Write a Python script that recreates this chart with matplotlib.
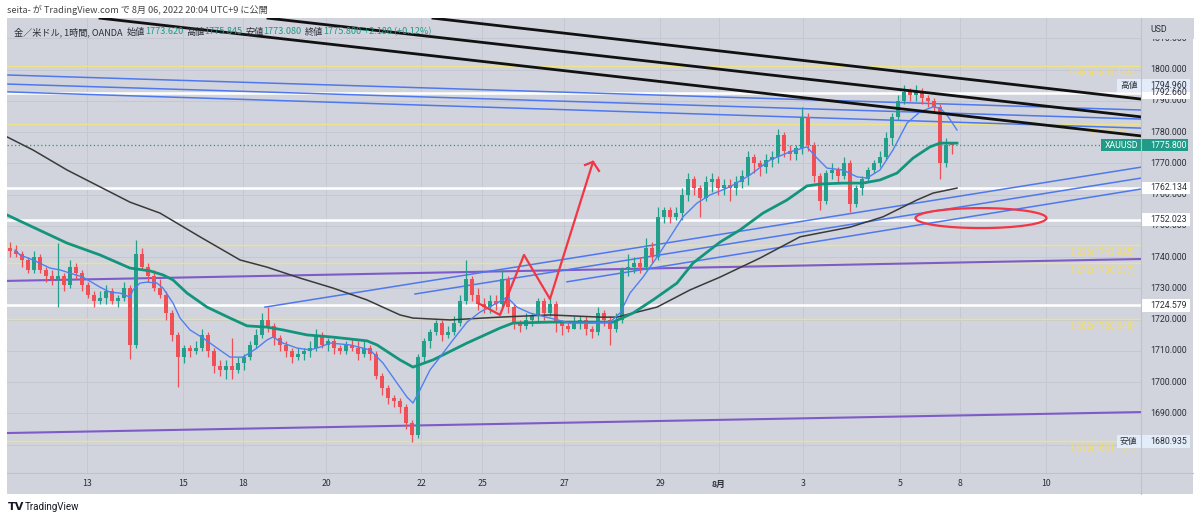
import matplotlib
matplotlib.use("Agg")
import matplotlib.pyplot as plt
from matplotlib.patches import Rectangle, Ellipse
import numpy as np

# ---------------- data ----------------
# 3-hour candles (XAUUSD)
opens = [1743, 1742, 1741, 1739, 1736, 1740, 1736, 1734, 1733, 1734,
         1731, 1737, 1735, 1731, 1728, 1726, 1727, 1729, 1726, 1727,
         1730, 1712, 1741, 1737, 1734, 1730, 1728, 1722, 1715, 1708,
         1711, 1710, 1711, 1715, 1710, 1705, 1704, 1705, 1704, 1706,
         1708, 1712, 1715, 1720, 1718, 1714, 1712, 1710, 1708, 1709,
         1710, 1711, 1715, 1712, 1713, 1711, 1710, 1712, 1711, 1709,
         1711, 1709, 1702, 1698, 1695, 1694, 1692, 1687, 1683, 1708,
         1713, 1716, 1719, 1715, 1716, 1719, 1726, 1733, 1728, 1725,
         1724, 1726, 1725, 1733, 1724, 1719, 1718, 1720, 1721, 1726,
         1722, 1725, 1719, 1718, 1717, 1719, 1720, 1717, 1716, 1722,
         1720, 1717, 1720, 1736, 1737, 1738, 1737, 1743, 1740, 1753,
         1755, 1753, 1754, 1760, 1765, 1762, 1759, 1764, 1765, 1762,
         1763, 1762, 1764, 1766, 1772, 1770, 1769, 1771, 1772, 1779,
         1774, 1773, 1775, 1785, 1776, 1766, 1758, 1767, 1768, 1766,
         1770, 1757, 1762, 1765, 1768, 1770, 1772, 1778, 1785, 1790,
         1793, 1792, 1793, 1791, 1790, 1788, 1770, 1776]
highs = [1745, 1744, 1742, 1740, 1742, 1741, 1737, 1736, 1744.5, 1735,
         1739, 1738, 1736, 1732, 1729, 1729, 1731, 1730, 1728, 1732,
         1731, 1745.5, 1743, 1738, 1736, 1733, 1729, 1723, 1716, 1712,
         1712, 1713, 1717, 1716, 1711, 1707, 1707, 1714, 1708, 1709,
         1713, 1717, 1722, 1724, 1719, 1715, 1713, 1711, 1711, 1711,
         1713, 1717, 1716, 1714, 1714, 1712, 1713, 1714, 1713, 1713,
         1712, 1710, 1703, 1699, 1696, 1695, 1693, 1688, 1709, 1714,
         1717, 1720, 1720, 1718, 1721, 1728, 1739, 1734, 1730, 1727,
         1728, 1728, 1736, 1734, 1725, 1720, 1722, 1722, 1727, 1727,
         1727, 1726, 1720, 1719, 1721, 1721, 1721, 1718, 1724, 1723,
         1721, 1722, 1737, 1741, 1740, 1740, 1746, 1745, 1756, 1756,
         1756, 1756, 1762, 1767, 1766, 1763, 1766, 1767, 1766, 1765,
         1765, 1766, 1768, 1774, 1773, 1771, 1773, 1774, 1781, 1780,
         1776, 1776, 1788, 1786, 1777, 1767, 1768, 1770, 1769, 1772,
         1771, 1763, 1766, 1769, 1771, 1774, 1780, 1786, 1792, 1795,
         1794, 1794.96, 1794, 1792, 1791, 1789, 1778, 1777]
lows = [1740, 1740, 1737, 1735, 1735, 1735, 1732, 1731, 1724, 1729,
        1730, 1733, 1729, 1727, 1724, 1725, 1725, 1725, 1724, 1726,
        1707.5, 1711, 1736, 1732, 1729, 1727, 1720, 1713, 1698.5, 1706,
        1708, 1709, 1710, 1708, 1703, 1702, 1701, 1701, 1703, 1704,
        1707, 1711, 1714, 1716, 1712, 1710, 1708, 1706, 1707, 1707,
        1708, 1710, 1711, 1710, 1709, 1709, 1709, 1710, 1707, 1708,
        1707, 1701, 1696, 1693, 1692, 1690, 1685, 1680.94, 1682, 1706,
        1711, 1715, 1713, 1714, 1715, 1718, 1725, 1726, 1723, 1722,
        1722, 1723, 1724, 1722, 1717, 1716, 1717, 1718, 1719, 1720,
        1721, 1716, 1715, 1716, 1717, 1717, 1715, 1714, 1715, 1718,
        1712, 1716, 1719, 1734, 1735, 1735, 1736, 1738, 1739, 1751,
        1751, 1752, 1752, 1758, 1760, 1753, 1758, 1761, 1760, 1760,
        1758, 1760, 1762, 1763, 1767, 1766, 1767, 1769, 1770, 1772,
        1771, 1771, 1773, 1774, 1764, 1755, 1757, 1765, 1764, 1765,
        1754.5, 1756, 1760, 1764, 1767, 1769, 1771, 1776, 1784, 1789,
        1790, 1790, 1789, 1788, 1786, 1765, 1769, 1773]
closes = [1742, 1741, 1739, 1736, 1740, 1736, 1734, 1733, 1734, 1731,
          1737, 1735, 1731, 1728, 1726, 1727, 1729, 1726, 1727, 1730,
          1712, 1741, 1737, 1734, 1730, 1728, 1722, 1715, 1708, 1711,
          1710, 1711, 1715, 1710, 1705, 1704, 1705, 1704, 1706, 1708,
          1712, 1715, 1720, 1718, 1714, 1712, 1710, 1708, 1709, 1710,
          1711, 1715, 1712, 1713, 1711, 1710, 1712, 1711, 1709, 1711,
          1709, 1702, 1698, 1695, 1694, 1692, 1687, 1683, 1708, 1713,
          1716, 1719, 1715, 1716, 1719, 1726, 1733, 1728, 1725, 1724,
          1726, 1725, 1733, 1724, 1719, 1718, 1720, 1721, 1726, 1722,
          1725, 1719, 1718, 1717, 1719, 1720, 1717, 1716, 1722, 1720,
          1717, 1720, 1736, 1737, 1738, 1737, 1743, 1740, 1753, 1755,
          1753, 1754, 1760, 1765, 1762, 1759, 1764, 1765, 1762, 1763,
          1762, 1764, 1766, 1772, 1770, 1769, 1771, 1772, 1779, 1774,
          1773, 1775, 1785, 1776, 1766, 1758, 1767, 1768, 1766, 1770,
          1757, 1762, 1765, 1768, 1770, 1772, 1778, 1785, 1790, 1793,
          1792, 1793, 1791, 1790, 1788, 1770, 1776, 1775.8]
bar_hours = 3

# moving averages (hour index, price)
blue_ma_t = [3.5, 6, 12.5, 21, 26, 31, 37.5, 46, 51, 56, 61, 62.5, 66, 69.5, 74.5, 77.5,
             82.5, 86, 91, 97.5, 104.5, 111, 117.5, 124.5, 129.5, 132.5, 137.5, 144.5,
             151, 156, 161, 171, 181, 187.5, 194.5, 199.5, 202.5, 206, 211, 216, 222.5,
             229.5, 236, 244.5, 249.5, 254.5, 261, 271, 281, 291, 301, 306, 311, 317.5,
             324.5, 331, 337.5, 344.5, 351, 361, 371, 381, 391, 399.5, 404.5, 409.5,
             417.5, 424.5, 429.5, 436, 442.5, 449.5, 456, 462.5, 466, 469.5, 474.5]
blue_ma_v = [1742.3, 1740.7, 1739.1, 1736.5, 1735.9, 1734.9, 1733.6, 1730.4, 1728.8, 1728.5,
             1727.2, 1729.5, 1731.7, 1732.0, 1731.7, 1730.1, 1725.3, 1720.5, 1716.7, 1714.1,
             1710.9, 1708.0, 1708.0, 1710.9, 1713.5, 1714.4, 1712.5, 1710.9, 1710.3, 1711.2,
             1712.5, 1711.9, 1710.3, 1706.1, 1699.7, 1695.2, 1693.3, 1697.5, 1703.9, 1708.0,
             1713.5, 1719.2, 1722.4, 1725.3, 1727.2, 1724.0, 1722.1, 1720.5, 1718.9, 1718.9,
             1719.2, 1722.1, 1728.5, 1733.6, 1740.0, 1746.4, 1752.9, 1757.3, 1759.9, 1762.5,
             1766.3, 1771.1, 1773.7, 1775.3, 1771.7, 1768.5, 1767.9, 1765.7, 1765.3, 1767.9,
             1774.3, 1782.9, 1786.5, 1788.1, 1787.7, 1785.5, 1780.7]
green_ma_t = [-0.5, 12.5, 29.5, 46, 61, 71, 77.5, 82.5, 89.5, 99.5, 111, 119.5, 129.5, 137.5,
              149.5, 162.5, 179.5, 184.5, 196, 202.5, 212.5, 229.5, 246, 252.5, 271, 287.5,
              302.5, 312.5, 322.5, 334.5, 342.5, 356, 366, 377.5, 389.5, 399.5, 406, 417.5,
              427.5, 436, 444.5, 452.5, 461, 466, 474.5]
green_ma_v = [1753.5, 1749.6, 1744.5, 1740.7, 1736.5, 1735.6, 1734.3, 1732.7, 1728.5, 1724.0,
              1720.5, 1718.0, 1717.6, 1716.7, 1715.1, 1714.4, 1713.2, 1711.9, 1707.1, 1704.8,
              1707.1, 1712.5, 1717.3, 1718.9, 1719.2, 1719.2, 1719.2, 1722.1, 1726.3, 1731.7,
              1738.1, 1744.8, 1748.7, 1754.1, 1758.3, 1762.8, 1763.4, 1763.7, 1763.7, 1764.7,
              1766.9, 1771.7, 1775.3, 1776.5, 1776.5]
black_ma_t = [-0.5, 12.5, 29.5, 46, 61, 76, 96, 116, 129.5, 146, 162.5, 179.5, 196, 202.5,
              221, 246, 271, 296, 304.5, 324.5, 341, 356, 376, 396, 421, 437.5, 454.5,
              462.5, 474.5]
black_ma_v = [1778.5, 1774.3, 1767.9, 1762.5, 1757.6, 1754.1, 1746.5, 1739.1, 1736.8, 1733.3,
              1730.1, 1726.3, 1721.5, 1720.5, 1719.9, 1720.8, 1721.5, 1720.8, 1720.8, 1724.0,
              1729.5, 1733.6, 1739.7, 1746.5, 1749.6, 1752.9, 1758.3, 1760.5, 1762.1]

date_labels = ['13', '15', '18', '20', '22', '25', '27', '29', '8月', '3', '5', '8', '10']
date_hours = [39.5, 87.5, 117.5, 159, 206.5, 237, 278, 326, 355.5, 397.5, 446, 476, 519]
price_ticks = [1690, 1700, 1710, 1720, 1730, 1740, 1750, 1760, 1770, 1780, 1790, 1800, 1810]

white_levels = [1792.660, 1762.134, 1752.023, 1724.579]
fib_levels = ['0.886', '1', '1.236', '1.272', '1.382', '1.618']
fib_prices = [1801.165, 1782.521, 1743.925, 1738.037, 1720.048, 1681.151]
last_price = 1775.800
high_price = 1794.960
low_price = 1680.935
symbol = 'XAUUSD'

black_trend_t = [[212.5, 566.5], [130, 566.5], [46, 566.5]]
black_trend_v = [[1816.5, 1790.6], [1816.5, 1784.9], [1816.5, 1778.8]]
blue_trend_t = [[0, 566.5], [0, 566.5], [0, 566.5],
                [128.5, 566.5], [203.5, 566.5], [279.5, 566.5]]
blue_trend_v = [[1798.3, 1787.1], [1795.4, 1784.2], [1792.9, 1781.3],
                [1724.0, 1768.8], [1728.2, 1765.3], [1732.1, 1761.8]]
purple_trend_t = [[0, 566.5], [0, 566.5]]
purple_trend_v = [[1732.4, 1739.4], [1683.7, 1690.4]]
red_path_t = [235, 246, 258, 271, 292.5]
red_path_v = [1725.3, 1721.5, 1740.7, 1726.6, 1770.5]
red_head_t = [288.5, 292.5, 295.5]
red_head_v = [1769.5, 1770.5, 1767.6]
ellipse_center = (486.5, 1752.5)
ellipse_size = (65.5, 6.4)

title_text = 'seita- が TradingView.com で 8月 06, 2022 20:04 UTC+9 に公開'
header_name = '金／米ドル, 1時間, OANDA'
header_keys = ['始値', '高値', '安値', '終値']
header_vals = ['1773.620', '1775.845', '1773.080', '1775.800']
header_change = '+2.180 (+0.12%)'

# ---------------- style ----------------
BG = '#d1d4dc'
GRID = '#c5c8d0'
UP = '#22a08c'
DN = '#ef4f55'
TEAL = '#1f9b87'
TXT = '#2a2e39'
FIB = '#efe38a'
FIBTXT = '#f6dc6c'
JP = ['Noto Sans CJK JP', 'DejaVu Sans']
NUM = ['Roboto', 'Noto Sans CJK JP', 'DejaVu Sans']

W, H = 1200, 520
PL, PR, PT, PB = 7, 1141, 18, 473
AR, AB = 1193, 494

fig = plt.figure(figsize=(W / 100, H / 100), dpi=100)
fig.patch.set_facecolor('white')
fig.patches.append(Rectangle((PL / W, 1 - AB / H), (AR - PL) / W, (AB - PT) / H,
                             transform=fig.transFigure, fc=BG, ec='none', zorder=-5))

ax = fig.add_axes([PL / W, 1 - PB / H, (PR - PL) / W, (PB - PT) / H])
ax.set_facecolor('none')
ax.set_xlim(-0.5, 566.5)
ax.set_ylim(1670.9, 1816.55)
ax.axis('off')

def axfrac(px):
    return (px - PL) / (PR - PL)

# grid
for p in range(1680, 1820, 10):
    ax.axhline(p, color=GRID, lw=0.7, zorder=1)
for h in date_hours:
    ax.axvline(h, color=GRID, lw=0.7, zorder=1)

# fib lines + labels
ytr = ax.get_yaxis_transform()
for lv, p in zip(fib_levels, fib_prices):
    ax.axhline(p, color=FIB, lw=1.0, zorder=2)
    ax.annotate(f'{lv}({p:.3f})', xy=(axfrac(1135), p), xycoords=ytr,
                xytext=(0, -1.5), textcoords='offset points', ha='right', va='top',
                fontsize=6.4, color=FIBTXT, family=NUM, zorder=3)

# white levels
for p in white_levels:
    ax.axhline(p, color='white', lw=1.8, zorder=2)

# current price dotted
ax.axhline(last_price, color=TEAL, lw=0.9, ls=(0, (1, 2)), zorder=2)

# trend lines
for tt, vv in zip(purple_trend_t, purple_trend_v):
    ax.plot(tt, vv, color='#7e5bc8', lw=1.5, zorder=3)
for tt, vv in zip(blue_trend_t, blue_trend_v):
    ax.plot(tt, vv, color='#4f78ee', lw=1.1, zorder=3)

# candles
n = len(closes)
t = 1 + bar_hours * np.arange(n)
o = np.array(opens, float); c = np.array(closes, float)
hi = np.array(highs, float); lo = np.array(lows, float)
cols = np.where(c >= o, UP, DN)
ax.vlines(t, lo, hi, colors=cols, lw=0.9, zorder=4)
ax.bar(t, np.maximum(np.abs(c - o), 0.4), bottom=np.minimum(o, c), width=1.7,
       color=cols, lw=0, zorder=5)

# moving averages
ax.plot(black_ma_t, black_ma_v, color='#3a3a3a', lw=1.1, zorder=6)
ax.plot(green_ma_t, green_ma_v, color='#13957d', lw=2.0, zorder=6)
ax.plot(blue_ma_t, blue_ma_v, color='#4f80f2', lw=1.0, zorder=6)

for tt, vv in zip(black_trend_t, black_trend_v):
    ax.plot(tt, vv, color='#111111', lw=2.0, zorder=7)

# red drawings
ax.plot(red_path_t, red_path_v, color='#f23645', lw=1.6, zorder=8)
ax.plot(red_head_t, red_head_v, color='#f23645', lw=1.6, zorder=8)
ax.add_patch(Ellipse(ellipse_center, ellipse_size[0], ellipse_size[1], fill=False,
                     ec='#f23645', lw=1.6, zorder=8))

# ---- price scale ----
for p in price_ticks:
    ax.text(axfrac(1150), p, f'{p:.3f}', transform=ytr, ha='left', va='center',
            fontsize=6.3, color=TXT, family=NUM, clip_on=False, zorder=9)

def pbox(x0px, x1px, p, fc, hpx=12.5):
    hh = hpx / 3.124
    ax.add_patch(Rectangle((axfrac(x0px), p - hh / 2), axfrac(x1px) - axfrac(x0px), hh,
                           transform=ytr, fc=fc, ec='none', clip_on=False, zorder=10))

for p in white_levels:
    pbox(1141, 1190, p, 'white')
    ax.text(axfrac(1150), p, f'{p:.3f}', transform=ytr, ha='left', va='center',
            fontsize=6.3, color=TXT, family=NUM, clip_on=False, zorder=11)

for lab, p in [('高値', high_price), ('安値', low_price)]:
    pbox(1117, 1190, p, '#e3ecf9')
    ax.text(axfrac(1120), p, lab, transform=ytr, ha='left', va='center',
            fontsize=6.3, color=TXT, family=JP, clip_on=False, zorder=11)
    ax.text(axfrac(1150), p, f'{p:.3f}', transform=ytr, ha='left', va='center',
            fontsize=6.3, color=TXT, family=NUM, clip_on=False, zorder=11)

pbox(1101, 1188, last_price, TEAL, hpx=12)
ax.text(axfrac(1105), last_price, symbol, transform=ytr, ha='left', va='center',
        fontsize=6.3, color='white', family=NUM, clip_on=False, zorder=11)
ax.text(axfrac(1150), last_price, f'{last_price:.3f}', transform=ytr, ha='left',
        va='center', fontsize=6.3, color='white', family=NUM, clip_on=False, zorder=11)

# cover under USD label (hides most of the top tick label, as in the reference)
fig.patches.append(Rectangle((PR / W + 0.0005, 1 - 39 / H), (AR - PR) / W, 21 / H,
                             transform=fig.transFigure, fc=BG, ec='none', zorder=20))
fig.text(1150 / W, 1 - 29 / H, 'USD', fontsize=6.3, color=TXT, family=NUM,
         ha='left', va='center', zorder=21)

# separators
fig.add_artist(plt.Line2D([PR / W, PR / W], [1 - PT / H, 1 - AB / H],
                          transform=fig.transFigure, color='#bfc2ca', lw=0.8))
fig.add_artist(plt.Line2D([PL / W, AR / W], [1 - PB / H, 1 - PB / H],
                          transform=fig.transFigure, color='#bfc2ca', lw=0.8))

# ---- time scale ----
xtr = ax.get_xaxis_transform()
for lab, h in zip(date_labels, date_hours):
    ax.text(h, -(484 - PB) / (PB - PT), lab, transform=xtr, ha='center', va='center',
            fontsize=6.3, color=TXT, family=JP, clip_on=False,
            fontweight='bold' if '月' in lab else 'normal')

# ---- header ----
fig.text(7 / W, 1 - 10 / H, title_text, fontsize=6.6, color='#444', family=JP,
         ha='left', va='center')

renderer = fig.canvas.get_renderer()
def seq(x, parts, y=32, size=6.6):
    for s, col, gap in parts:
        tx = fig.text(x / W, 1 - y / H, s, fontsize=size, color=col, family=JP,
                      ha='left', va='center', zorder=30)
        x += tx.get_window_extent(renderer).width + gap
    return x

parts = [(header_name, TXT, 4)]
for k, v in zip(header_keys, header_vals):
    parts.append((k, TXT, 0))
    parts.append((v, TEAL, 3))
parts.append((header_change, TEAL, 0))
seq(14, parts)

# ---- footer logo ----
fig.text(8 / W, 1 - 507 / H, 'TV', fontsize=8, fontweight='bold', color='#131722',
         family='DejaVu Sans', ha='left', va='center')
fig.text(25 / W, 1 - 507 / H, 'TradingView', fontsize=7, color='#131722',
         family=NUM, ha='left', va='center')

fig.savefig('out.png', dpi=100, facecolor='white')
